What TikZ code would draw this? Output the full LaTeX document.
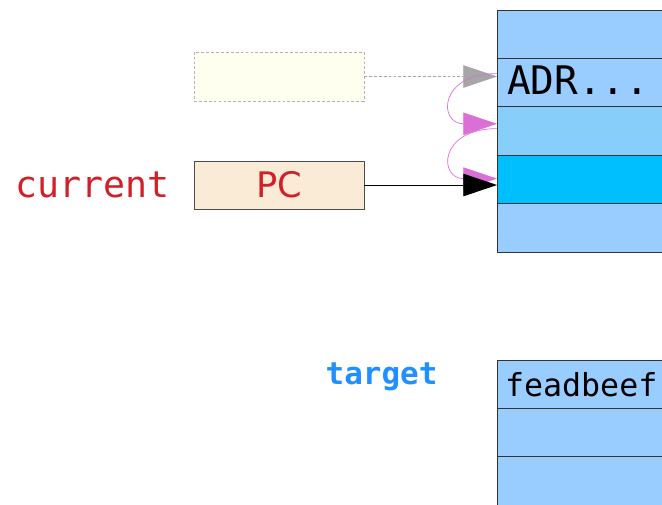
\documentclass[tikz,border=0pt]{standalone}
\usepackage{fontspec}
\setmainfont{DejaVu Sans}
\setmonofont{DejaVu Sans Mono}
\usepackage{xcolor}
\usetikzlibrary{arrows.meta,positioning}
\definecolor{cellblue}{HTML}{99CCFF}
\definecolor{skyblue}{HTML}{87CEFA}
\definecolor{deepsky}{HTML}{00BFFF}
\definecolor{antique}{HTML}{FAEBD7}
\definecolor{ivory}{HTML}{FFFFF0}
\definecolor{regred}{HTML}{D0202A}
\definecolor{dodger}{HTML}{1E90FF}
\definecolor{orchid}{HTML}{DA70D6}

\begin{document}
\begin{tikzpicture}[
      every node/.style={outer sep=0pt},
      membox/.style={draw=black!80,line width=0.6pt,fill=cellblue,minimum height=1.21cm,text width=6cm,inner xsep=0.25cm,align=left,font=\ttfamily\fontsize{28}{28}\selectfont},
      regbox/.style={draw=black!70,line width=0.6pt,fill=antique,minimum width=4.25cm,minimum height=1.2cm,text=regred,font=\fontsize{25}{25}\selectfont},
      ghostbox/.style={draw=black!30,dash pattern=on 2pt off 1.5pt,line width=0.5pt,fill=ivory,minimum width=4.25cm,minimum height=1.225cm},
      arr/.style={-{Triangle[length=24pt,width=16pt]}, line width=0.6pt},
      hop/.style={-{Triangle[length=24pt,width=16pt,fill=orchid]}, line width=0.5pt, draw=orchid}
  ]
    \useasboundingbox (0,0) rectangle (16.55,-12.6);
    \clip (0,0) rectangle (16.55,-12.6);

    % memory around the current PC
    \node[membox,anchor=north west] (m0) at (12.425,-0.25) {};
    \node[membox,below=0pt of m0] (m1) {\raisebox{3pt}{ADR...}};
    \node[membox,below=0pt of m1,fill=skyblue] (m2) {};
    \node[membox,below=0pt of m2,fill=deepsky] (m3) {};
    \node[membox,below=0pt of m3] (m4) {};

    % memory at the target
    \node[membox,anchor=north west,font=\ttfamily\fontsize{22.5}{22.5}\selectfont] (t0) at (12.425,-9.0) {\hspace*{-0.05cm}feadbeef};
    \node[membox,below=0pt of t0] (t1) {};
    \node[membox,below=0pt of t1] (t2) {};

    \node[ghostbox] (ghost) at (6.975,-1.9125) {};
    \node[regbox] (pc) at (6.975,-4.625) {PC};
    \node[left=0.6cm of pc,inner sep=0pt,text=regred,font=\ttfamily\fontsize{26}{26}\selectfont] (cur) {current};
    \node[text=dodger,font=\ttfamily\bfseries\fontsize{22}{22}\selectfont] (tgt) at (9.54,-9.425) {target};

    \draw[arr,draw=black!35,fill=black!35,dash pattern=on 2pt off 1.5pt,line width=0.5pt] (ghost.east) -- (ghost.east -| m1.west);
    \draw[hop] ([yshift=0.225cm]m1.west) to[out=180,in=180,looseness=3] ([yshift=0.18cm]m2.west);
    \draw[hop] ([yshift=0.06cm]m2.west) to[out=180,in=180,looseness=3] ([yshift=0.02cm]m3.west);
    \draw[arr] (pc.east) -- (pc.east -| m3.west);
  \end{tikzpicture}
\end{document}
